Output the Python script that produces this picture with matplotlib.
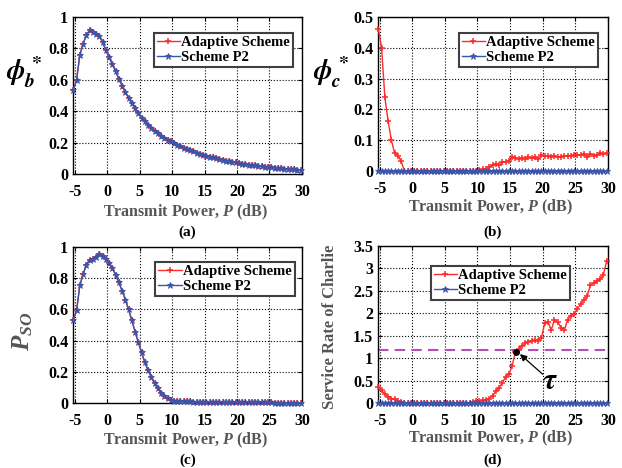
import numpy as np
import matplotlib
matplotlib.use('Agg')
import matplotlib.pyplot as plt
from matplotlib.ticker import FormatStrFormatter

plt.rcParams['font.family'] = 'Liberation Serif'
plt.rcParams['font.weight'] = 'bold'
plt.rcParams['axes.labelweight'] = 'bold'
plt.rcParams['axes.unicode_minus'] = False
plt.rcParams['mathtext.fontset'] = 'custom'
plt.rcParams['mathtext.it'] = 'Liberation Serif:italic:bold'
plt.rcParams['mathtext.rm'] = 'Liberation Serif:bold'

# transmit power grid (dB), 0.5 dB step
power = np.arange(-5.2, 29.9, 0.5)

# (a) optimal phi_b
phi_b_adaptive = [0.536, 0.60, 0.76, 0.83, 0.885, 0.915, 0.905, 0.895, 0.88, 0.84,
                  0.79, 0.743, 0.70, 0.655, 0.606, 0.564, 0.52, 0.486, 0.452, 0.42,
                  0.389, 0.36, 0.335, 0.315, 0.295, 0.276, 0.26, 0.245, 0.232, 0.22,
                  0.208, 0.198, 0.188, 0.178, 0.169, 0.16, 0.152, 0.144, 0.137, 0.13,
                  0.124, 0.117, 0.111, 0.106, 0.101, 0.096, 0.091, 0.086, 0.082, 0.078,
                  0.074, 0.071, 0.067, 0.064, 0.061, 0.058, 0.055, 0.052, 0.05, 0.047,
                  0.045, 0.043, 0.041, 0.039, 0.037, 0.035, 0.033, 0.032, 0.03, 0.029,
                  0.027]
phi_b_p2 = list(phi_b_adaptive)

# (b) optimal phi_c
phi_c_adaptive = [0.462, 0.40, 0.24, 0.162, 0.10, 0.058, 0.05, 0.032, 0.0, 0.0,
                  0.0, 0.0, 0.0, 0.0, 0.0, 0.0, 0.0, 0.0, 0.0, 0.0,
                  0.0, 0.0, 0.0, 0.0, 0.0, 0.0, 0.0, 0.0, 0.0, 0.0,
                  0.001, 0.003, 0.005, 0.008, 0.012, 0.02, 0.022, 0.018, 0.028, 0.03,
                  0.034, 0.047, 0.042, 0.04, 0.043, 0.04, 0.044, 0.042, 0.045, 0.04,
                  0.051, 0.049, 0.05, 0.047, 0.049, 0.045, 0.046, 0.048, 0.05, 0.049,
                  0.051, 0.052, 0.053, 0.054, 0.046, 0.055, 0.05, 0.052, 0.057, 0.054,
                  0.058]
phi_c_p2 = [0.0] * 71

# (c) P_SO
pso_adaptive = [0.534, 0.593, 0.754, 0.826, 0.885, 0.917, 0.921, 0.936, 0.955, 0.942,
                0.923, 0.895, 0.864, 0.822, 0.773, 0.72, 0.663, 0.60, 0.53, 0.458,
                0.389, 0.325, 0.262, 0.209, 0.167, 0.125, 0.093, 0.065, 0.044, 0.03,
                0.019, 0.015, 0.012, 0.011, 0.01, 0.01, 0.01, 0.009, 0.009, 0.009,
                0.009, 0.008, 0.008, 0.008, 0.008, 0.008, 0.007, 0.007, 0.007, 0.007,
                0.007, 0.006, 0.006, 0.006, 0.006, 0.006, 0.006, 0.005, 0.005, 0.005,
                0.005, 0.004, 0.003, 0.003, 0.002, 0.002, 0.002, 0.002, 0.002, 0.002,
                0.002]
pso_p2 = list(pso_adaptive)

# (d) service rate of Charlie
rate_adaptive = [0.36, 0.28, 0.20, 0.14, 0.10, 0.08, 0.05, 0.03, 0.01, 0.0,
                 0.0, 0.0, 0.0, 0.0, 0.0, 0.0, 0.0, 0.0, 0.0, 0.0,
                 0.0, 0.0, 0.0, 0.0, 0.0, 0.0, 0.0, 0.0, 0.0, 0.02,
                 0.04, 0.05, 0.06, 0.07, 0.09, 0.16, 0.26, 0.33, 0.45, 0.58,
                 0.64, 0.82, 1.14, 1.20, 1.27, 1.33, 1.37, 1.38, 1.40, 1.39,
                 1.45, 1.78, 1.81, 1.62, 1.86, 1.80, 1.68, 1.62, 1.85, 1.95,
                 1.99, 2.10, 2.20, 2.30, 2.38, 2.62, 2.67, 2.71, 2.76, 2.86,
                 3.17]
rate_p2 = [0.0] * 71
tau = 1.18
tau_point = (15.9, 1.14)

red = '#ff2a2a'
blue = '#3c55aa'
gray = '#555555'

fig = plt.figure(figsize=(6.22, 4.68), dpi=100)
ax_a = fig.add_axes([0.1174, 0.628, 0.368, 0.3355])
ax_b = fig.add_axes([0.6077, 0.6346, 0.3698, 0.329])
ax_c = fig.add_axes([0.1174, 0.1389, 0.368, 0.3333])
ax_d = fig.add_axes([0.6077, 0.1389, 0.3698, 0.3355])


def draw(ax, y_ad, y_p2, ylim, step, leg_anchor):
    ax.plot(power, y_ad, color=red, lw=1, marker='+', ms=5, mew=1.1,
            label='Adaptive Scheme', clip_on=False, zorder=3)
    ax.plot(power, y_p2, color=blue, lw=1, marker='*', ms=5, mew=0.6,
            label='Scheme P2', clip_on=False, zorder=4)
    ax.set_xlim(-5.25, 30)
    ax.set_ylim(*ylim)
    ax.set_xticks(np.arange(-5, 31, 5))
    ax.set_yticks(np.arange(ylim[0], ylim[1] + 1e-9, step))
    ax.yaxis.set_major_formatter(FormatStrFormatter('%g'))
    ax.grid(True, color='black', ls=':', lw=0.8)
    ax.tick_params(direction='in', top=True, right=True, labelsize=11.5, length=3)
    ax.tick_params(axis='x', pad=7)
    for s in ax.spines.values():
        s.set_linewidth(1)
    ax.set_xlabel('Transmit Power, $P$ (dB)', fontsize=11.5, color=gray)
    leg = ax.legend(loc='upper right', bbox_to_anchor=leg_anchor, fontsize=10.5,
                    fancybox=False, framealpha=1, edgecolor='#404040',
                    handlelength=1.6, handletextpad=0.1, borderpad=0.2,
                    labelspacing=0.1, borderaxespad=0)
    leg.get_frame().set_linewidth(1.5)
    leg.set_zorder(10)


draw(ax_a, phi_b_adaptive, phi_b_p2, (0, 1), 0.2, (0.961, 0.898))
draw(ax_b, phi_c_adaptive, phi_c_p2, (0, 0.5), 0.1, (0.957, 0.896))
draw(ax_c, pso_adaptive, pso_p2, (0, 1), 0.2, (0.969, 0.904))
draw(ax_d, rate_adaptive, rate_p2, (0, 3.5), 0.5, (0.835, 0.873))

phi_font = dict(fontsize=20, color='black', fontweight='normal',
                math_fontfamily='stix', rotation=0)
ax_a.set_ylabel(r'$\phi_b^*$', **phi_font)
ax_b.set_ylabel(r'$\phi_c^*$', **phi_font)
ax_c.set_ylabel(r'$P_{SO}$', fontsize=18, color=gray)
ax_d.set_ylabel('Service Rate of Charlie', fontsize=12, color=gray)

ax_a.yaxis.set_label_coords(-0.215, 0.535)
ax_b.yaxis.set_label_coords(-0.205, 0.526)
ax_c.yaxis.set_label_coords(-0.165, 0.46)
ax_d.yaxis.set_label_coords(-0.174, 0.484)
ax_a.xaxis.set_label_coords(0.493, -0.185)
ax_b.xaxis.set_label_coords(0.49, -0.175)
ax_c.xaxis.set_label_coords(0.493, -0.175)
ax_d.xaxis.set_label_coords(0.49, -0.165)

ax_d.axhline(tau, color='#b650b6', lw=1.5, dashes=(5, 3), zorder=2)
ax_d.plot(*tau_point, 'o', color='black', ms=4, zorder=6)
ax_d.annotate('', xy=(16.5, 1.09), xytext=(20.0, 0.64),
              arrowprops=dict(arrowstyle='-|>', color='black', lw=0.9,
                              shrinkA=0, shrinkB=0, mutation_scale=10))
ax_d.text(21.1, 0.47, r'$\tau$', fontsize=22, ha='center', va='center',
          math_fontfamily='stix', fontweight='normal')

for x, y, s in [(0.3014, 0.503, '(a)'), (0.7926, 0.503, '(b)'),
                (0.3014, 0.0156, '(c)'), (0.7926, 0.0156, '(d)')]:
    fig.text(x, y, s, ha='center', va='center', fontsize=11, fontweight='bold')

fig.savefig('out.png', dpi=100)
